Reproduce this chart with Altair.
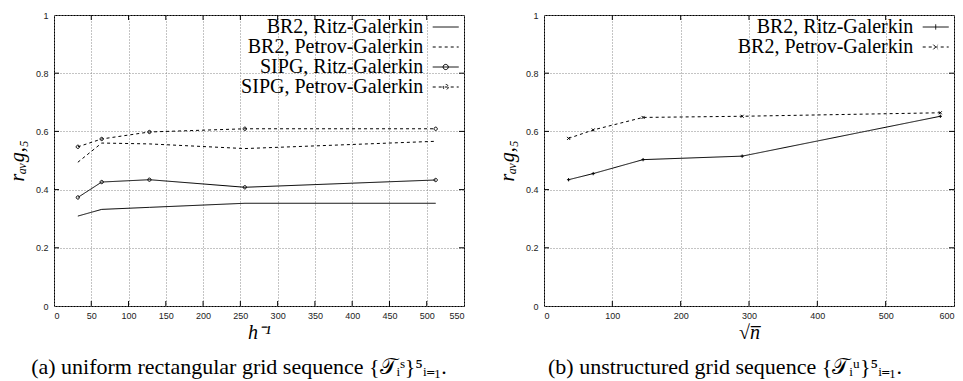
import altair as alt
import pandas as pd

# ---------------- data ----------------
series_a = ["BR2, Ritz-Galerkin", "BR2, Petrov-Galerkin",
            "SIPG, Ritz-Galerkin", "SIPG, Petrov-Galerkin"]
markers_a = ["none", "none", "circle", "circle "]
h_inv = [32, 64, 128, 256, 512]
br2_ritz_a = [0.309, 0.332, 0.339, 0.353, 0.353]
br2_petrov_a = [0.494, 0.560, 0.557, 0.541, 0.566]
sipg_ritz_a = [0.373, 0.426, 0.434, 0.408, 0.433]
sipg_petrov_a = [0.547, 0.574, 0.598, 0.609, 0.609]

series_b = ["BR2, Ritz-Galerkin", "BR2, Petrov-Galerkin"]
markers_b = ["plus", "cross"]
sqrt_n = [36, 72, 145, 290, 580]
br2_ritz_b = [0.434, 0.455, 0.503, 0.515, 0.652]
br2_petrov_b = [0.576, 0.605, 0.648, 0.652, 0.664]

xticks_a = [0, 50, 100, 150, 200, 250, 300, 350, 400, 450, 500, 550]
xticks_b = [0, 100, 200, 300, 400, 500, 600]
yticks = [0, 0.2, 0.4, 0.6, 0.8, 1.0]

caption_a = "(a)  uniform rectangular grid sequence {𝒯ᵢˢ}⁵ᵢ₌₁."
caption_b = "(b)  unstructured grid sequence {𝒯ᵢᵘ}⁵ᵢ₌₁."

# ---------------- styles ----------------
W, H = 410, 291
SERIF = "Liberation Serif"
SANS = "Liberation Sans"
LINE = "M-3,0H3"
CIRC = "M0.55,0A0.55,0.55,0,1,1,-0.55,0A0.55,0.55,0,1,1,0.55,0"
PLUS = "M0,-0.55V0.55M-0.55,0H0.55"
CROSS = "M-0.5,-0.5L0.5,0.5M-0.5,0.5L0.5,-0.5"


def long_df(xs, names, markers, ys):
    rows = []
    for n, m, vals in zip(names, markers, ys):
        for xv, yv in zip(xs, vals):
            rows.append({"x": xv, "y": yv, "series": n, "marker": m})
    return pd.DataFrame(rows)


def tick_df(xt, xmax, ylen, xlen):
    rows = []
    for t in xt[1:-1]:
        rows.append({"x": t, "x2": t, "y": 0, "y2": ylen})
        rows.append({"x": t, "x2": t, "y": 1, "y2": 1 - ylen})
    for t in yticks[1:-1]:
        rows.append({"x": 0, "x2": xlen, "y": t, "y2": t})
        rows.append({"x": xmax, "x2": xmax - xlen, "y": t, "y2": t})
    return pd.DataFrame(rows)


def panel(df, names, dashes, marker_names, marker_paths, legend_shape_expr,
          xdomain, xt, xtitle, caption, cap_dx):
    xs = alt.Scale(domain=xdomain, nice=False, zero=False)
    ys = alt.Scale(domain=[0, 1], nice=False)
    xaxis = alt.Axis(values=xt, title=xtitle, titleY=26, titleBaseline="middle")
    yaxis = alt.Axis(values=yticks, format="~g", title="rₐᵥg,₅",
                     titleX=-37, titleY=H / 2, titleAngle=270,
                     titleAlign="center", titleBaseline="middle")

    xlen = 5 / W * (xdomain[1] - xdomain[0])
    ticks = alt.Chart(tick_df(xt, xdomain[1], 5 / H, xlen)).mark_rule(
        color="black", strokeWidth=1
    ).encode(
        x=alt.X("x:Q", scale=xs, axis=xaxis),
        x2="x2:Q",
        y=alt.Y("y:Q", scale=ys, axis=yaxis),
        y2="y2:Q",
    )

    lines = alt.Chart(df).mark_line(color="black", strokeWidth=1).encode(
        x=alt.X("x:Q", scale=xs, axis=xaxis),
        y=alt.Y("y:Q", scale=ys, axis=yaxis),
        strokeDash=alt.StrokeDash(
            "series:N",
            scale=alt.Scale(domain=names, range=dashes),
            legend=alt.Legend(
                title=None, orient="none", legendX=381.7, legendY=2,
                labelFont=SERIF, labelFontSize=20, labelColor="black",
                labelAlign="right", labelOffset={"expr": "-32.4"}, labelLimit=0,
                symbolType={"expr": legend_shape_expr}, symbolSize=75,
                symbolStrokeWidth=1,
                symbolStrokeColor="black", symbolFillColor="transparent",
                symbolOffset=0, rowPadding=0, padding=0,
            ),
        ),
    )

    points = alt.Chart(df).transform_filter(
        alt.FieldOneOfPredicate(field="marker", oneOf=marker_names)
    ).mark_point(filled=False, color="black", strokeWidth=1, size=36, opacity=1).encode(
        x=alt.X("x:Q", scale=xs, axis=xaxis),
        y=alt.Y("y:Q", scale=ys, axis=yaxis),
        shape=alt.Shape("marker:N",
                        scale=alt.Scale(domain=marker_names, range=marker_paths),
                        legend=None),
    )

    return alt.layer(lines, points, ticks).properties(
        width=W, height=H,
        title=alt.TitleParams(text=caption, orient="bottom", font=SERIF,
                              fontSize=22, fontWeight="normal", color="black",
                              anchor="middle", frame="group", dx=cap_dx, offset=15),
    )


df_a = long_df(h_inv, series_a, markers_a,
               [br2_ritz_a, br2_petrov_a, sipg_ritz_a, sipg_petrov_a])
df_b = long_df(sqrt_n, series_b, markers_b, [br2_ritz_b, br2_petrov_b])

expr_a = ("indexof(datum.value, 'SIPG') >= 0 ? '" + LINE + "M0.6,0A0.6,0.6,0,1,1,-0.6,0A0.6,0.6,0,1,1,0.6,0' : '"
          + LINE + "'")
expr_b = ("indexof(datum.value, 'Ritz') >= 0 ? '" + LINE + "M0,-0.6V0.6' : '"
          + LINE + "M-0.55,-0.55L0.55,0.55M-0.55,0.55L0.55,-0.55'")

left = panel(df_a, series_a, [[1, 0], [3, 3], [1, 0], [3, 3]],
             ["circle", "circle "], [CIRC, CIRC], expr_a,
             [0, 550], xticks_a, "h⁻¹", caption_a, -20)
right = panel(df_b, series_b, [[1, 0], [3, 3]],
              markers_b, [PLUS, CROSS], expr_b,
              [0, 600], xticks_b, "√n̅", caption_b, -24)

chart = alt.hconcat(left, right, spacing=80, bounds="flush").resolve_scale(
    x="independent", y="independent", strokeDash="independent", shape="independent"
).properties(
    padding={"left": 54, "top": 15, "right": 963 - 54, "bottom": 381 - 15},
    autosize=alt.AutoSizeParams(type="none"),
).configure_view(
    stroke="black", strokeWidth=1
).configure_axis(
    domain=False, ticks=False,
    labelFont=SANS, labelFontSize=9, labelColor="#222",
    labelPadding=5,
    grid=True, gridColor="#888", gridDash=[1, 2], gridWidth=1, gridOpacity=1,
    titleFont=SERIF, titleFontSize=20, titleFontStyle="italic",
    titleFontWeight="normal", titleColor="black",
).configure_axisY(labelPadding=6)

chart.save("out.html", embed_options={"renderer": "svg", "actions": False})
